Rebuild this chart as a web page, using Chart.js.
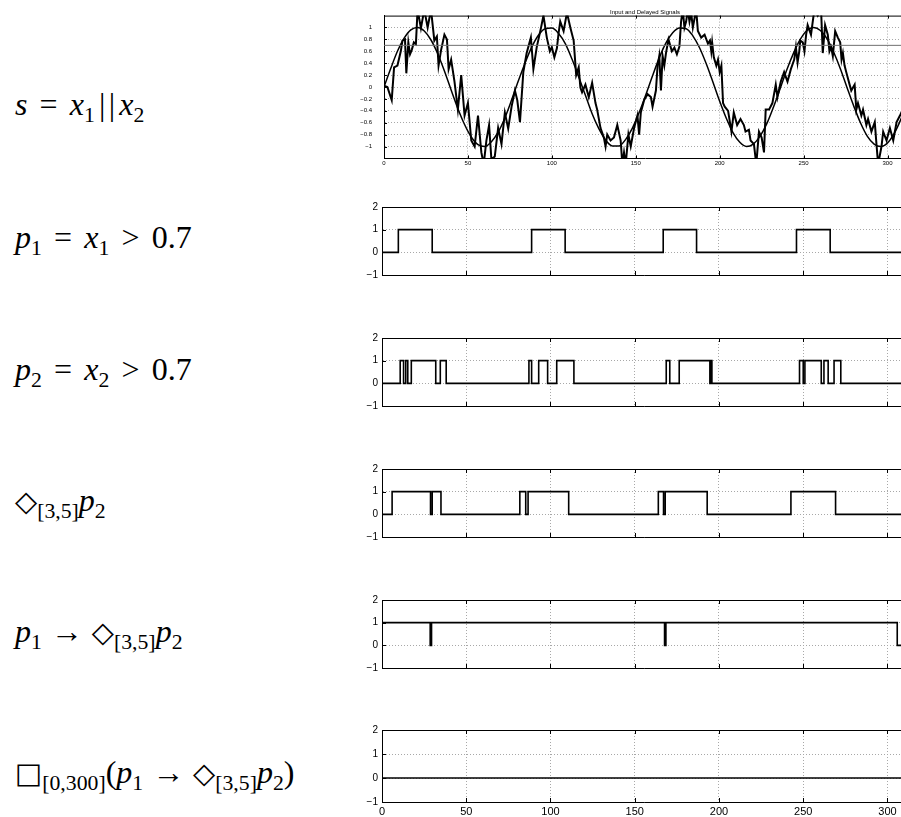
<!DOCTYPE html>
<html><head><meta charset="utf-8">
<script src="https://cdn.jsdelivr.net/npm/chart.js@4.4.0/dist/chart.umd.min.js"></script>
<style>
html,body{margin:0;padding:0;background:#fff;overflow:hidden;width:901px;height:817px;position:relative;}
canvas{position:absolute;}
.lab{position:absolute;left:15px;font-family:'Liberation Serif','DejaVu Serif',serif;font-size:32px;color:#000;white-space:nowrap;line-height:1;transform:translateY(-50%);}
.lab i{font-style:italic;}
.lab sub{font-size:68%;vertical-align:-0.3em;line-height:0;font-style:normal;}
.op{margin:0 0.28em;}
.rel{margin:0 0.38em;}
.bar{margin:0 0.05em;}
.ws{margin-right:0.12em;}
.wx{margin-left:0.08em;}
.sym{font-family:'DejaVu Sans',sans-serif;font-size:90%;}
</style></head><body>
<div class="lab" style="top:104px"><i>s</i><span class="rel">=</span><i>x</i><sub class="ws">1</sub><span class="bar">|</span><span class="bar">|</span><i class="wx">x</i><sub>2</sub></div>
<div class="lab" style="top:237px"><i>p</i><sub>1</sub><span class="rel">=</span><i>x</i><sub>1</sub><span class="rel">&gt;</span>0.7</div>
<div class="lab" style="top:369px"><i>p</i><sub>2</sub><span class="rel">=</span><i>x</i><sub>2</sub><span class="rel">&gt;</span>0.7</div>
<div class="lab" style="top:500px"><span class="sym">◇</span><sub>[3,5]</sub><i>p</i><sub>2</sub></div>
<div class="lab" style="top:631px"><i>p</i><sub>1</sub><span class="op">→</span><span class="sym">◇</span><sub>[3,5]</sub><i>p</i><sub>2</sub></div>
<div class="lab" style="top:772px"><span class="sym">□</span><sub>[0,300]</sub>(<i>p</i><sub>1</sub><span class="op">→</span><span class="sym">◇</span><sub>[3,5]</sub><i>p</i><sub>2</sub>)</div>
<script>
// ---------- data ----------
const X_MAX = 311;
const X_TICKS = [0, 50, 100, 150, 200, 250, 300];
const STEP_Y_TICKS = [-1, 0, 1, 2];
const TOP_Y_TICKS = [-1, -0.8, -0.6, -0.4, -0.2, 0, 0.2, 0.4, 0.6, 0.8, 1];
const THRESHOLD = 0.7;
const TITLE = 'Input and Delayed Signals';

// x1: smooth input signal
const sineT = [0,4,8,12,16,20,24,28,32,36,40,44,48,52,56,60,64,68,72,76,80,84,88,92,96,100,104,108,112,116,120,124,128,132,136,140,144,148,152,156,160,164,168,172,176,180,184,188,192,196,200,204,208,212,216,220,224,228,232,236,240,244,248,252,256,260,264,268,272,276,280,284,288,292,296,300,304,308,312];
const sineV = [0,0.31,0.60,0.82,0.96,1.00,0.94,0.79,0.56,0.27,-0.05,-0.36,-0.63,-0.84,-0.97,-1.00,-0.92,-0.76,-0.52,-0.22,0.10,0.40,0.67,0.87,0.98,0.99,0.90,0.73,0.47,0.17,-0.14,-0.45,-0.70,-0.89,-0.99,-0.99,-0.88,-0.69,-0.43,-0.13,0.19,0.49,0.74,0.91,0.99,0.98,0.86,0.66,0.39,0.08,-0.24,-0.53,-0.77,-0.93,-1.00,-0.96,-0.83,-0.62,-0.34,-0.03,0.29,0.57,0.80,0.95,1.00,0.95,0.81,0.58,0.30,-0.02,-0.33,-0.61,-0.83,-0.96,-1.00,-0.94,-0.78,-0.54,-0.25];

// x2: noisy delayed signal
const noisyT = [0,2,4.6,6,8,10,11,12.5,13.3,14.5,15.5,16.5,17.8,19,20,22,24,26,28,30,31.5,32.5,34,35,36,37.5,38.5,40,
 42,44,46,48,50,52,54,56,58,59.4,61,62.6,64,66,68,70,72,74,76,78,79.4,81,83,85,87.5,89,91,93.5,95,97,98.8,100,101.5,103,
 104,105,107,109,111,113,114.5,116,117,118,120,122,124,126,127,129,131,132,133,135,137,139,141,142,143,144,145.6,147,149,151,152,153,155,157,159,160,162,163,164,165,166,167,168,169.5,171.5,173,174.5,176,177,178,179,180,181,182,183,184,186,187,189,191,193,194.2,195,195.5,196.5,198,199,200,201,202,203,
 205,207,208.4,210.4,212.4,214.4,215.4,217.4,218.4,220.4,221.8,223.4,225,226.4,227.4,229.4,231.4,233.4,234.4,236.4,238.4,240.4,242.4,244.4,245.4,246.4,247.4,248,249.5,250.5,251.5,252.4,254.4,256.4,258.4,260.4,261.4,262.8,264.4,265.4,266.4,267.4,268.8,270.4,271.8,272.6,273.4,274.4,275.4,277.4,278.4,280.4,281.4,282.4,284.4,285.4,287.4,288.4,290.4,292.4,293.4,294.4,296.4,297.4,299.4,301.4,303.4,305.4,307.4,309,311];
const noisyV = [0.02,0.0,-0.22,0.33,0.36,0.6,0.78,0.8,0.23,0.75,0.55,0.62,0.75,0.72,1.3,0.99,1.3,1.0,1.3,0.78,0.85,0.36,0.62,0.75,0.88,0.8,0.3,0.46,
 0.09,-0.38,0.2,-0.48,-0.27,-0.9,-1.0,-0.48,-1.1,-1.3,-0.9,-0.64,-1.22,-1.17,-0.69,-0.96,-0.43,-0.7,-0.33,-0.06,-0.22,-0.59,0.25,0.57,0.83,0.3,0.67,0.99,1.2,0.83,0.6,0.67,0.5,0.65,
 0.9,1.1,0.94,1.25,1.0,0.78,0.2,0.33,-0.01,-0.09,0.04,-0.17,0.07,-0.27,-0.38,-0.69,-0.85,-1.0,-0.8,-0.9,-0.85,-0.64,-0.9,-1.3,-1.1,-1.3,-0.8,-1.0,-0.69,-0.48,-0.8,-0.43,-0.22,-0.12,-0.17,-0.33,-0.06,0.36,0.52,-0.06,0.52,0.36,0.57,0.8,0.6,0.66,0.55,0.68,1.1,1.3,1.0,1.1,1.3,1.1,1.25,1.0,1.3,0.94,0.83,0.88,0.73,0.78,0.6,0.75,0.5,0.36,0.46,0.25,0.36,-0.27,-0.33,
 -0.4,-0.75,-0.43,-0.64,-0.54,-0.64,-0.75,-0.72,-0.9,-0.96,-1.3,-0.75,-0.85,-1.1,-0.38,-0.38,-0.27,0.04,-0.17,0.09,0.25,0.09,0.3,0.46,0.67,0.41,0.6,0.78,0.75,0.6,0.88,1.04,0.88,1.3,1.2,1.3,0.57,1.04,0.88,0.6,0.67,0.52,0.94,0.83,0.75,0.46,0.57,0.36,0.25,0.04,-0.06,0.04,-0.38,-0.27,-0.48,-0.38,-0.64,-0.54,-0.75,-0.59,-0.96,-1.3,-1.0,-0.75,-0.9,-0.69,-0.9,-0.59,-0.48,-0.38,-0.2];

// p1 = x1 > 0.7 (value holds from each time until the next)
const p1T = [0, 9.7, 29.8, 88.8, 108.7, 166.9, 186.7, 246, 266, 311];
const p1V = [0, 1, 0, 1, 0, 1, 0, 1, 0, 0];
// p2 = x2 > 0.7
const p2T = [0, 10.8, 12.8, 14.1, 15.3, 17.4, 31.9, 34.6, 38.1, 87.2, 88.8, 93, 98.3, 103.7, 113.9, 168.7, 170.8, 176.4, 194.6, 195.2, 195.8, 247.8, 250, 251, 260.7, 262.3, 264.8, 268.3, 272.3, 311];
const p2V = [0, 1, 0, 1, 0, 1, 0, 1, 0, 1, 0, 1, 0, 1, 0, 1, 0, 1, 0, 1, 0, 1, 0, 1, 0, 1, 0, 1, 0, 0];
// eventually[3,5] p2
const evT = [0, 6, 28.8, 29.8, 35, 81.8, 85.3, 86.7, 110.8, 164, 167.1, 168.1, 193, 242.7, 269.2, 311];
const evV = [0, 1, 0, 1, 0, 1, 0, 1, 0, 1, 0, 1, 0, 1, 0, 0];
// p1 -> eventually[3,5] p2
const impT = [0, 28.6, 29.4, 167.7, 168.5, 305.8, 311];
const impV = [1, 0, 1, 0, 1, 0, 0];
// always[0,300](...)
const alwT = [0, 311];
const alwV = [0, 0];

// ---------- drawing ----------
const GRID = '#a8a8a8';
Chart.defaults.font.family = "'Liberation Sans', Arial, sans-serif";
Chart.defaults.color = '#000';

const pts = (ts, vs) => ts.map((t, i) => ({x: t, y: vs[i]}));
const fmt = v => { const n = +(+v).toFixed(1); return (n < 0 ? '\u2212' : '') + String(Math.abs(n)); };

const boxPlugin = {
  id: 'mbox',
  afterDatasetsDraw(chart, args, o) {
    const {ctx, chartArea: {left, right, top, bottom}, scales: {x, y}} = chart;
    ctx.save();
    ctx.strokeStyle = '#000';
    ctx.lineWidth = 1;
    ctx.beginPath();
    ctx.moveTo(left, top + 0.5); ctx.lineTo(right, top + 0.5);
    X_TICKS.forEach(v => {
      const px = Math.round(x.getPixelForValue(v)) + 0.5;
      ctx.moveTo(px, bottom); ctx.lineTo(px, bottom - o.tick);
      ctx.moveTo(px, top); ctx.lineTo(px, top + o.tick);
    });
    o.yTicks.forEach(v => {
      const py = Math.round(y.getPixelForValue(v)) + 0.5;
      ctx.moveTo(left, py); ctx.lineTo(left + o.tick, py);
    });
    ctx.stroke();
    if (o.title) {
      ctx.fillStyle = '#000';
      ctx.font = "6px 'Liberation Sans', Arial, sans-serif";
      ctx.textAlign = 'center';
      ctx.textBaseline = 'bottom';
      ctx.fillText(o.title, (left + right) / 2, top);
    }
    ctx.restore();
  }
};

function makeChart(c) {
  const cv = document.createElement('canvas');
  cv.width = c.width; cv.height = c.height;
  cv.style.left = c.left + 'px'; cv.style.top = c.top + 'px';
  cv.style.width = c.width + 'px'; cv.style.height = c.height + 'px';
  document.body.appendChild(cv);
  return new Chart(cv, {
    type: 'line',
    data: {datasets: c.datasets},
    options: {
      responsive: false, devicePixelRatio: 1, animation: false,
      layout: {padding: {top: c.padTop, left: 0, right: 0, bottom: 0}},
      elements: {point: {radius: 0}},
      plugins: {legend: {display: false}, tooltip: {enabled: false},
        mbox: {tick: c.tick, yTicks: c.yTicks, title: c.title || null}},
      scales: {
        x: {type: 'linear', min: 0, max: X_MAX,
          afterBuildTicks: s => { s.ticks = X_TICKS.map(v => ({value: v})); },
          afterFit: s => { s.height = c.xHeight; },
          grid: {color: GRID, lineWidth: 1, drawTicks: false},
          border: {display: true, color: '#000', width: 1, dash: [1, 2]},
          ticks: {display: c.showX, font: {size: c.xFont}, padding: c.xPad, maxRotation: 0, autoSkip: false, callback: v => fmt(v)}},
        y: {type: 'linear', min: c.yMin, max: c.yMax,
          afterBuildTicks: s => { s.ticks = c.yTicks.map(v => ({value: v})); },
          afterFit: s => { s.width = c.yWidth; },
          grid: {color: GRID, lineWidth: 1, drawTicks: false},
          border: {display: true, color: '#000', width: 1, dash: [1, 2]},
          ticks: {font: {size: c.yFont}, padding: c.yPad, callback: v => fmt(v)}}
      }
    },
    plugins: [boxPlugin]
  });
}

// top chart: input and delayed signals
makeChart({
  left: 341, top: 0, width: 565, height: 174, padTop: 7, yWidth: 43, xHeight: 9,
  yMin: -1.2, yMax: 1.2, yTicks: TOP_Y_TICKS, showX: true, xFont: 6, xPad: 1, yFont: 6, yPad: 12, tick: 3,
  title: TITLE,
  datasets: [
    {data: pts([0, X_MAX], [THRESHOLD, THRESHOLD]), borderColor: '#707070', borderWidth: 1, clip: 0},
    {data: pts(sineT, sineV), borderColor: '#000', borderWidth: 1.5, cubicInterpolationMode: 'monotone', clip: 0},
    {data: pts(noisyT, noisyV), borderColor: '#000', borderWidth: 2, clip: 0}
  ]
});

const stepSeries = [
  {t: p1T, v: p1V, top: 197},
  {t: p2T, v: p2V, top: 328},
  {t: evT, v: evV, top: 459},
  {t: impT, v: impV, top: 590},
  {t: alwT, v: alwV, top: 720, last: true}
];
stepSeries.forEach(s => {
  makeChart({
    left: 340, top: s.top, width: 566, height: s.last ? 97 : 88, padTop: 6, yWidth: 42, xHeight: s.last ? 15 : 6,
    yMin: -1, yMax: 2, yTicks: STEP_Y_TICKS, showX: !!s.last, xFont: 11, xPad: 3, yFont: 10, yPad: 4, tick: 4,
    datasets: [{data: pts(s.t, s.v), borderColor: '#000', borderWidth: 1.6, stepped: true, clip: 0}]
  });
});
</script>
</body></html>
